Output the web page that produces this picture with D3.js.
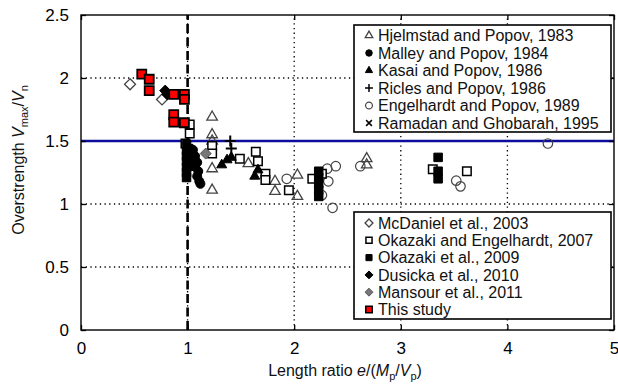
<!DOCTYPE html>
<html><head><meta charset="utf-8">
<script src="https://cdn.jsdelivr.net/npm/d3@7"></script>
<style>body{margin:0;background:#fff} svg{display:block;font-family:"Liberation Sans",Arial,Helvetica,sans-serif}</style>
</head><body><svg id="c" width="618" height="384"></svg>
<script>
// ---- data ----
const xTicks = [0, 1, 2, 3, 4, 5];
const xTickLabels = ["0", "1", "2", "3", "4", "5"];
const yTicks = [0, 0.5, 1, 1.5, 2, 2.5];
const yTickLabels = ["0", "0.5", "1", "1.5", "2", "2.5"];
const limitX = 1;       // dashed line e/(Mp/Vp) = 1
const limitY = 1.5;     // overstrength 1.5 line

const hjelmstad = [[1.23,1.69],[1.23,1.55],[1.23,1.50],[1.23,1.28],[1.23,1.11],[1.57,1.32],[1.82,1.18],[1.82,1.10],[2.03,1.23],[2.03,1.06],[2.68,1.36],[2.68,1.31]];
const malley = [[1.05,1.43],[1.07,1.38],[1.09,1.33],[1.05,1.34],[1.07,1.30],[1.10,1.26],[1.09,1.22],[1.11,1.18],[1.12,1.16]];
const kasai = [[1.32,1.31],[1.37,1.35],[1.41,1.37],[1.63,1.22],[1.66,1.27]];
const ricles = [[1.40,1.50],[1.41,1.44]];
const engelhardt = [[1.93,1.20],[2.31,1.28],[2.39,1.30],[2.32,1.18],[2.26,1.07],[2.36,0.97],[2.62,1.30],[3.52,1.185],[3.56,1.14],[4.38,1.48]];
const ramadan = [];
const mcdaniel = [[0.46,1.95],[0.76,1.83]];
const okazakiEng = [[1.02,1.63],[1.02,1.56],[0.98,1.48],[1.23,1.46],[1.23,1.40],[1.49,1.36],[1.64,1.415],[1.66,1.34],[1.73,1.24],[1.73,1.19],[1.95,1.11],[2.17,1.20],[2.26,1.24],[3.30,1.275],[3.62,1.26]];
const okazaki2009 = [[0.99,1.47],[0.99,1.42],[0.99,1.38],[0.99,1.34],[0.99,1.29],[0.99,1.25],[0.99,1.21],[1.01,1.44],[1.01,1.30],[2.23,1.26],[2.23,1.21],[2.23,1.16],[2.23,1.11],[2.23,1.06],[3.35,1.37],[3.35,1.26],[3.35,1.20]];
const dusicka = [[0.79,1.90],[0.81,1.87]];
const mansour = [[1.17,1.40]];
const thisStudy = [[0.57,2.03],[0.64,1.99],[0.64,1.90],[0.87,1.87],[0.97,1.87],[0.97,1.83],[0.87,1.71],[0.87,1.65],[0.97,1.645]];

const legend1Labels = ["Hjelmstad and Popov, 1983","Malley and Popov, 1984","Kasai and Popov, 1986","Ricles and Popov, 1986","Engelhardt and Popov, 1989","Ramadan and Ghobarah, 1995"];
const legend2Labels = ["McDaniel et al., 2003","Okazaki and Engelhardt, 2007","Okazaki et al., 2009","Dusicka et al., 2010","Mansour et al., 2011","This study"];

// ---- drawing ----
const svg = d3.select("#c");
const L = 81, R = 614, T = 15, B = 330;
const x = d3.scaleLinear().domain([0, 5]).range([L, R]);
const y = d3.scaleLinear().domain([0, 2.5]).range([B, T]);

// grid
const g = svg.append("g");
g.selectAll(".gx").data(xTicks.slice(1, -1)).join("line")
  .attr("x1", d => x(d)).attr("x2", d => x(d)).attr("y1", y(0)).attr("y2", y(2.5))
  .attr("stroke", "#000").attr("stroke-width", 1.3).attr("stroke-dasharray", "1.3,3.4");
g.selectAll(".gy").data(yTicks.slice(1, -1)).join("line")
  .attr("y1", d => y(d)).attr("y2", d => y(d)).attr("x1", x(0)).attr("x2", x(5))
  .attr("stroke", "#000").attr("stroke-width", 1.3).attr("stroke-dasharray", "1.3,3.4");

// reference lines
svg.append("line").attr("x1", x(limitX)).attr("x2", x(limitX)).attr("y1", y(0)).attr("y2", y(2.5))
  .attr("stroke", "#000").attr("stroke-width", 2.6).attr("stroke-dasharray", "9,4.5");
svg.append("line").attr("x1", x(0)).attr("x2", x(5)).attr("y1", y(limitY)).attr("y2", y(limitY))
  .attr("stroke", "#0d0d9c").attr("stroke-width", 2.4);

// symbol paths
const sym = {
  tri: s => { const h = s * Math.sqrt(3) / 2; return `M0,${-h*2/3}L${s/2},${h/3}L${-s/2},${h/3}Z`; },
  sq: s => `M${-s/2},${-s/2}h${s}v${s}h${-s}Z`,
  circ: s => d3.symbol(d3.symbolCircle, Math.PI * s * s / 4)(),
  diam: s => `M0,${-s/2}L${s/2},0L0,${s/2}L${-s/2},0Z`,
  plus: s => `M${-s/2},0H${s/2}M0,${-s/2}V${s/2}`,
  cross: s => `M${-s/2},${-s/2}L${s/2},${s/2}M${-s/2},${s/2}L${s/2},${-s/2}`
};
const styles = {
  hjelmstad:  {p: "tri",  s: 10.5, fill: "none", stroke: "#444", sw: 1.3},
  malley:     {p: "circ", s: 9,  fill: "#000", stroke: "#000", sw: 1},
  kasai:      {p: "tri",  s: 10, fill: "#000", stroke: "#000", sw: 1},
  ricles:     {p: "plus", s: 11, fill: "none", stroke: "#000", sw: 2},
  engelhardt: {p: "circ", s: 9.5, fill: "none", stroke: "#444", sw: 1.2},
  ramadan:    {p: "cross", s: 8, fill: "none", stroke: "#000", sw: 2},
  mcdaniel:   {p: "diam", s: 11, fill: "#fff", stroke: "#444", sw: 1.3},
  okazakiEng: {p: "sq",   s: 8.5, fill: "#fff", stroke: "#000", sw: 1.5},
  okazaki2009:{p: "sq",   s: 8.5, fill: "#000", stroke: "#000", sw: 1},
  dusicka:    {p: "diam", s: 11, fill: "#000", stroke: "#000", sw: 1},
  mansour:    {p: "diam", s: 11, fill: "#777", stroke: "#555", sw: 1},
  thisStudy:  {p: "sq",   s: 9,  fill: "#f00", stroke: "#000", sw: 1.8}
};
function drawSeries(data, st) {
  svg.append("g").selectAll("path").data(data).join("path")
    .attr("transform", d => `translate(${x(d[0])},${y(d[1])})`)
    .attr("d", sym[st.p](st.s))
    .attr("fill", st.fill).attr("stroke", st.stroke).attr("stroke-width", st.sw);
}
drawSeries(hjelmstad, styles.hjelmstad);
drawSeries(engelhardt, styles.engelhardt);
drawSeries(okazakiEng, styles.okazakiEng);
drawSeries(mansour, styles.mansour);
drawSeries(kasai, styles.kasai);
drawSeries(ricles, styles.ricles);
drawSeries(ramadan, styles.ramadan);
drawSeries(okazaki2009, styles.okazaki2009);
drawSeries(malley, styles.malley);
drawSeries(mcdaniel, styles.mcdaniel);
drawSeries(dusicka, styles.dusicka);
drawSeries(thisStudy, styles.thisStudy);

// axes (inward ticks on all four sides)
function styleAxis(sel) {
  sel.select(".domain").remove();
  sel.selectAll("line").attr("stroke", "#000").attr("stroke-width", 1.3);
  sel.selectAll("text").attr("font-size", 17).attr("fill", "#000").attr("font-family", "Liberation Sans, Arial, sans-serif");
}
svg.append("g").attr("transform", `translate(0,${B})`)
  .call(d3.axisBottom(x).tickValues(xTicks).tickFormat((d, i) => xTickLabels[i]).tickSizeInner(-5).tickSizeOuter(0).tickPadding(12))
  .call(styleAxis);
svg.append("g").attr("transform", `translate(0,${T})`)
  .call(d3.axisTop(x).tickValues(xTicks).tickFormat("").tickSizeInner(-5).tickSizeOuter(0))
  .call(styleAxis);
svg.append("g").attr("transform", `translate(${L},0)`)
  .call(d3.axisLeft(y).tickValues(yTicks).tickFormat((d, i) => yTickLabels[i]).tickSizeInner(-5).tickSizeOuter(0).tickPadding(12))
  .call(styleAxis);
svg.append("g").attr("transform", `translate(${R},0)`)
  .call(d3.axisRight(y).tickValues(yTicks).tickFormat("").tickSizeInner(-5).tickSizeOuter(0))
  .call(styleAxis);
svg.append("rect").attr("x", L).attr("y", T).attr("width", R - L).attr("height", B - T)
  .attr("fill", "none").attr("stroke", "#000").attr("stroke-width", 1.4);

// axis titles
const xt = svg.append("text").attr("x", 345).attr("y", 376).attr("text-anchor", "middle").attr("font-size", 16).attr("fill", "#111");
xt.append("tspan").text("Length ratio ");
xt.append("tspan").attr("font-style", "italic").text("e");
xt.append("tspan").text("/(");
xt.append("tspan").attr("font-style", "italic").text("M");
xt.append("tspan").attr("font-size", 11).attr("dy", 4).text("p");
xt.append("tspan").attr("dy", -4).text("/");
xt.append("tspan").attr("font-style", "italic").text("V");
xt.append("tspan").attr("font-size", 11).attr("dy", 4).text("p");
xt.append("tspan").attr("dy", -4).text(")");

const yt = svg.append("text").attr("transform", "translate(24,160) rotate(-90)").attr("text-anchor", "middle").attr("font-size", 16).attr("fill", "#111");
yt.append("tspan").text("Overstrength ");
yt.append("tspan").attr("font-style", "italic").text("V");
yt.append("tspan").attr("font-size", 11).attr("dy", 4).text("max");
yt.append("tspan").attr("dy", -4).text("/");
yt.append("tspan").attr("font-style", "italic").text("V");
yt.append("tspan").attr("font-size", 11).attr("dy", 4).text("n");

// legends
function legend(x0, y0, w, h, labels, keys, firstY, step) {
  const lg = svg.append("g");
  lg.append("rect").attr("x", x0).attr("y", y0).attr("width", w).attr("height", h)
    .attr("fill", "#fff").attr("stroke", "#000").attr("stroke-width", 1.6);
  labels.forEach((lab, i) => {
    const st = styles[keys[i]];
    const cy = firstY + i * step;
    lg.append("path").attr("transform", `translate(369,${cy})`).attr("d", sym[st.p](st.s * 0.72))
      .attr("fill", st.fill).attr("stroke", st.stroke).attr("stroke-width", Math.min(st.sw, 1.5));
    lg.append("text").attr("x", 378).attr("y", cy).attr("dy", "0.36em").attr("font-size", 16).attr("fill", "#111").text(lab);
  });
}
legend(354, 25, 257, 107, legend1Labels, ["hjelmstad","malley","kasai","ricles","engelhardt","ramadan"], 35.5, 17.5);
legend(354, 212, 257, 107, legend2Labels, ["mcdaniel","okazakiEng","okazaki2009","dusicka","mansour","thisStudy"], 223, 17.3);
</script></body></html>
